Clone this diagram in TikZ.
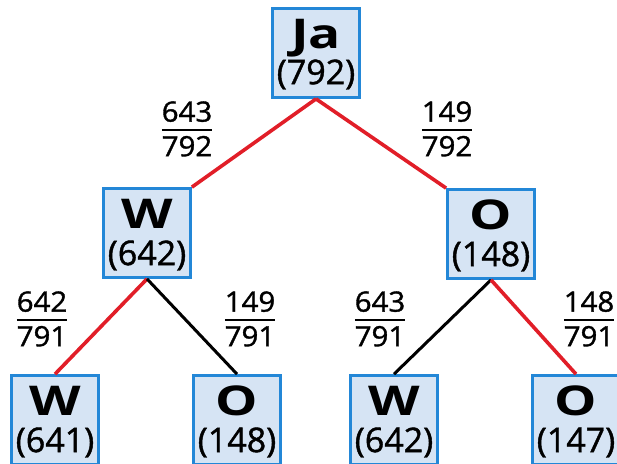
\documentclass[tikz,border=0pt]{standalone}
\usepackage{fontspec}
\usepackage{graphicx}
\setmainfont{Open Sans}
\newfontfamily\semib[FakeBold=1.2]{Open Sans}
\usetikzlibrary{calc}
\definecolor{boxfill}{RGB}{214,228,244}
\definecolor{boxline}{RGB}{35,135,215}
\definecolor{redline}{RGB}{225,30,40}
\newcommand{\Lett}[1]{\scalebox{1.3}[1]{\fontsize{41}{41}\selectfont\bfseries #1}}
\newcommand{\Cnt}[1]{\scalebox{1.0}[1]{\fontsize{34}{34}\selectfont\semib #1}}
\newcommand{\Frc}[2]{\scalebox{1.05}[1]{\fontsize{28}{28}\selectfont\semib\setlength{\arrayrulewidth}{2.2pt}\setlength{\tabcolsep}{0pt}\begin{tabular}{c}#1\\[-1pt]\hline\rule{0pt}{25pt}#2\end{tabular}}}
\tikzset{
  box/.style={draw=boxline, fill=boxfill, line width=2.8pt, minimum width=87pt, minimum height=89pt, inner sep=0pt},
  txt/.style={anchor=base, inner sep=0pt},
  frac/.style={inner sep=0pt},
  redc/.style={draw=redline, line width=3.6pt},
  blkc/.style={draw=black, line width=3pt}
}
\begin{document}
\begin{tikzpicture}[x=1pt,y=-1pt]
\useasboundingbox (0,0) rectangle (617,463);
\clip (0,0) rectangle (617,463);
% boxes
\node[box] (ja) at (316,53) {};
\node[box] (wm) at (147,233) {};
\node[box] (om) at (491,234) {};
\node[box] (w1) at (55,420) {};
\node[box] (o1) at (237,420) {};
\node[box] (w2) at (394,420) {};
\node[box] (o2) at (576,420) {};
% connectors
\draw[redc] (ja.south) -- (wm.north east);
\draw[redc] (ja.south) -- (om.north west);
\draw[redc] (wm.south) -- (w1.north);
\draw[blkc] (wm.south) -- (o1.north);
\draw[blkc] (om.south) -- (w2.north);
\draw[redc] (om.south) -- (o2.north);
% box texts
\node[txt] (jaL) at ($(ja.north)+(0,41)$) {\Lett{Ja}};
\node[txt] (jaN) at ($(ja.north)+(0,77)$) {\Cnt{(792)}};
\node[txt] (wmL) at ($(wm.north)+(0,41)$) {\Lett{W}};
\node[txt] (wmN) at ($(wm.north)+(0,78)$) {\Cnt{(642)}};
\node[txt] (omL) at ($(om.north)+(0,41)$) {\Lett{O}};
\node[txt] (omN) at ($(om.north)+(0,78)$) {\Cnt{(148)}};
\node[txt] (w1L) at ($(w1.north)+(0,41)$) {\Lett{W}};
\node[txt] (w1N) at ($(w1.north)+(0,78)$) {\Cnt{(641)}};
\node[txt] (o1L) at ($(o1.north)+(0,41)$) {\Lett{O}};
\node[txt] (o1N) at ($(o1.north)+(0,78)$) {\Cnt{(148)}};
\node[txt] (w2L) at ($(w2.north)+(0,41)$) {\Lett{W}};
\node[txt] (w2N) at ($(w2.north)+(0,78)$) {\Cnt{(642)}};
\node[txt] (o2L) at ($(o2.north)+(0,41)$) {\Lett{O}};
\node[txt] (o2N) at ($(o2.north)+(0,78)$) {\Cnt{(147)}};
% fractions
\node[frac] (f1) at (187,133) {\Frc{643}{792}};
\node[frac] (f2) at (447,133) {\Frc{149}{792}};
\node[frac] (f3) at (42,323) {\Frc{642}{791}};
\node[frac] (f4) at (250,323) {\Frc{149}{791}};
\node[frac] (f5) at (380,323) {\Frc{643}{791}};
\node[frac] (f6) at (589,323) {\Frc{148}{791}};
\end{tikzpicture}
\end{document}
